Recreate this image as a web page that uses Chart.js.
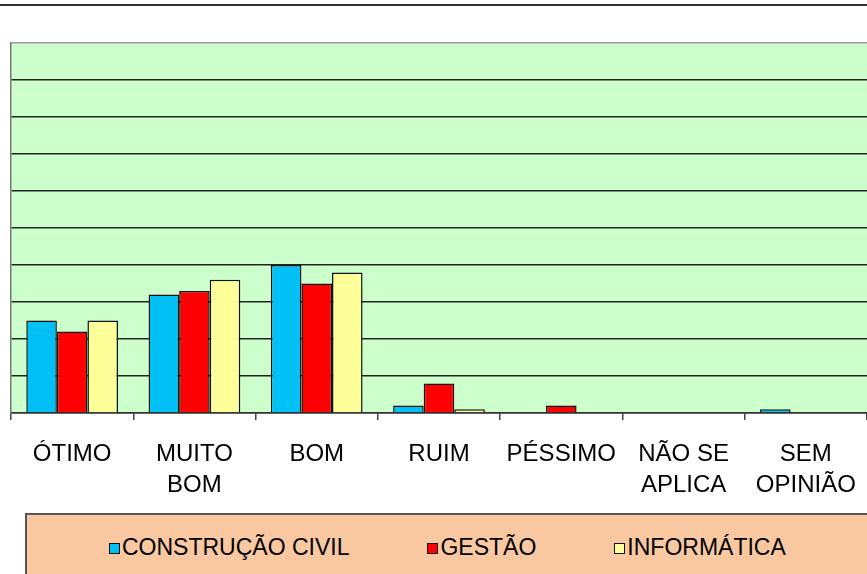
<!DOCTYPE html>
<html lang="pt">
<head>
<meta charset="UTF-8" />
<title>Avaliação</title>
<style>
  html, body { margin: 0; padding: 0; background: #fff; overflow: hidden; }
  .chart-container { position: relative; width: 867px; height: 574px; overflow: hidden; }
  #legenda {
    position: absolute; left: 25px; top: 513px; width: 850px; height: 70px;
    background: #FAC8A0; border-top: 2px solid #555; border-left: 2px solid #555;
    box-sizing: border-box; display: flex; align-items: center; gap: 78px;
    padding: 0 0 4px 82px;
    font-family: 'Liberation Sans', Arial, sans-serif; font-size: 23px; color: #000;
  }
  #legenda span.item { display: flex; align-items: center; white-space: nowrap; }
  #legenda span.cor { display: inline-block; width: 9px; height: 9px; border: 1.5px solid #111; margin-right: 2px; margin-top: 2px; }
</style>
</head>
<body>
<div class="chart-container">
  <canvas id="bars" width="867" height="574"></canvas>
  <div id="legenda"></div>
</div>
<script src="https://cdn.jsdelivr.net/npm/chart.js"></script>
<script>
  // categorias (linhas quebradas como no original)
  const categorias = [["ÓTIMO"], ["MUITO", "BOM"], ["BOM"], ["RUIM"], ["PÉSSIMO"], ["NÃO SE", "APLICA"], ["SEM", "OPINIÃO"]];
  // percentuais por curso
  const construcaoCivil = [25, 32, 40, 2, 0, 0, 1];
  const gestao = [22, 33, 35, 8, 2, 0, 0];
  const informatica = [25, 36, 38, 1, 0, 0, 0];
  const cursos = ["CONSTRUÇÃO CIVIL", "GESTÃO", "INFORMÁTICA"];
  const cores = ["#00C0F6", "#FF0000", "#FFFF99"];

  const fonte = "'Liberation Sans', Arial, sans-serif";

  // fundo verde e linha do topo
  const fundo = {
    id: "fundo",
    beforeDraw(chart) {
      const { ctx, chartArea: a, width, height } = chart;
      ctx.save();
      ctx.fillStyle = "#fff";
      ctx.fillRect(0, 0, width, height);
      ctx.fillStyle = "#CCFFCC";
      ctx.fillRect(a.left, a.top, a.right - a.left, a.bottom - a.top);
      ctx.strokeStyle = "#333";
      ctx.lineWidth = 2;
      ctx.beginPath();
      ctx.moveTo(0, 5);
      ctx.lineTo(width, 5);
      ctx.stroke();
      ctx.restore();
    }
  };

  const chart = new Chart(document.getElementById("bars"), {
    type: "bar",
    data: {
      labels: categorias,
      datasets: [
        { label: cursos[0], data: construcaoCivil, backgroundColor: cores[0], borderColor: "#111", borderWidth: 1.5 },
        { label: cursos[1], data: gestao, backgroundColor: cores[1], borderColor: "#111", borderWidth: 1.5 },
        { label: cursos[2], data: informatica, backgroundColor: cores[2], borderColor: "#111", borderWidth: 1.5 }
      ]
    },
    options: {
      responsive: false,
      animation: false,
      layout: { padding: { top: 43, left: 11, right: 0, bottom: 61 } },
      datasets: { bar: { categoryPercentage: 0.75, barPercentage: 1 } },
      scales: {
        x: {
          grid: { offset: true, drawOnChartArea: false, tickLength: 7, color: "#444", lineWidth: 1.5 },
          border: { color: "#333", width: 1.5 },
          ticks: { color: "#000", padding: 19, maxRotation: 0, autoSkip: false, font: { family: fonte, size: 24, lineHeight: 1.3 } },
          afterFit(scale) {
            scale.height = 100;
            scale.paddingLeft = 0;
            scale.paddingRight = 0;
          }
        },
        y: {
          min: 0,
          max: 100,
          ticks: { display: false, stepSize: 10 },
          grid: {
            drawTicks: false,
            color: (c) => (c.tick && c.tick.value === 100 ? "#999" : "#222"),
            lineWidth: 1.5
          },
          border: { color: "#777", width: 1.5 }
        }
      },
      plugins: {
        legend: { display: false },
        tooltip: { enabled: false }
      }
    },
    plugins: [fundo]
  });

  // legenda em HTML, a partir dos datasets
  const leg = document.getElementById("legenda");
  chart.data.datasets.forEach((ds) => {
    const item = document.createElement("span");
    item.className = "item";
    const cor = document.createElement("span");
    cor.className = "cor";
    cor.style.background = ds.backgroundColor;
    item.appendChild(cor);
    item.appendChild(document.createTextNode(ds.label));
    leg.appendChild(item);
  });
</script>
</body>
</html>
